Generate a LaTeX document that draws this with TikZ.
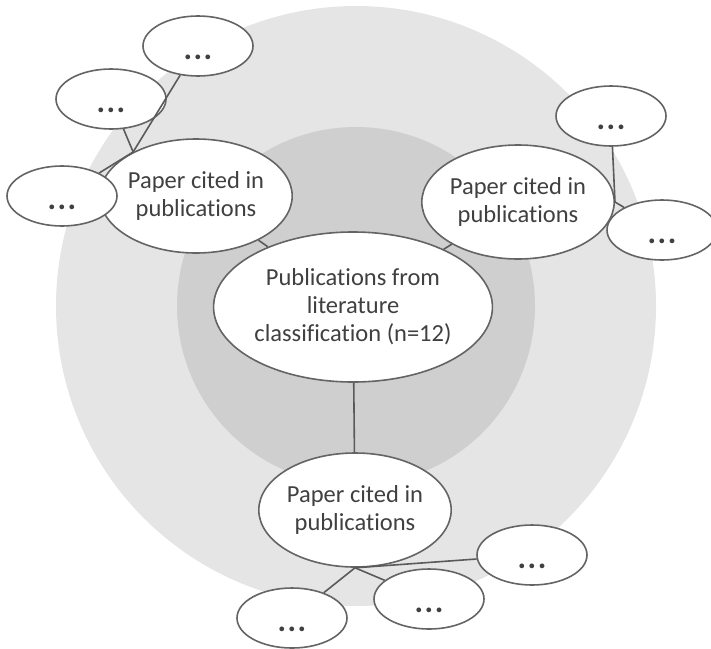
\documentclass[tikz,border=0pt]{standalone}
\usepackage{fontspec}
\setmainfont{Carlito}[Ligatures=NoCommon]
\usetikzlibrary{shapes.geometric}
\definecolor{ringouter}{RGB}{229,229,229}
\definecolor{ringinner}{RGB}{208,207,208}
\definecolor{edgegray}{RGB}{100,100,100}
\definecolor{textgray}{RGB}{64,64,64}
\newcommand{\moredots}{\smash{\raisebox{-13pt}{\fontsize{32}{32}\selectfont\bfseries .\kern1.5pt.\kern1.5pt.}}}

\begin{document}
\begin{tikzpicture}[x=1pt,y=-1pt,
  bubble/.style={ellipse,draw=edgegray,line width=1.6pt,fill=white,
    inner sep=0pt,text=textgray,align=center,
    font=\fontsize{24.5}{28}\selectfont},
  big/.style={bubble,minimum width=162pt,minimum height=114pt},
  small/.style={bubble,minimum width=110pt,minimum height=60pt},
  link/.style={draw=edgegray!90!black,line width=1.6pt}]
\useasboundingbox (0,0) rectangle (711,648);
\fill[ringouter](356,306) circle (300pt);
\fill[ringinner](356,306) circle (179pt);
\node[bubble,minimum width=236pt,minimum height=150pt](pub)at(353,307)
  {Publications from\\literature\\classification (n=12)};
\node[big](pcl)at(196,196){Paper cited in\\publications};
\node[big](pcr)at(518,202){Paper cited in\\publications};
\node[big](pcb)at(355,510){Paper cited in\\publications};
\node[small](l1)at(198,46){\moredots};
\node[small](l2)at(111,99){\moredots};
\node[small](l3)at(62,196){\moredots};
\node[small](r1)at(611,116){\moredots};
\node[small](r2)at(662,230){\moredots};
\node[small](b1)at(532,555){\moredots};
\node[small](b2)at(429,599){\moredots};
\node[small](b3)at(292,618){\moredots};
\coordinate(jl)at(pcl.145);
\coordinate(jr)at(pcr.east);
\coordinate(jb)at(pcb.south);
\draw[link](pcl)--(pub);
\draw[link](pcr)--(pub);
\draw[link](pub)--(pcb);
\foreach \n in {l1,l2,l3}
  \draw[link](jl)--(\n);
\foreach \n in {r1,r2}
  \draw[link](jr)--(\n);
\foreach \n in {b1,b2,b3}
  \draw[link](jb)--(\n);
\end{tikzpicture}
\end{document}
